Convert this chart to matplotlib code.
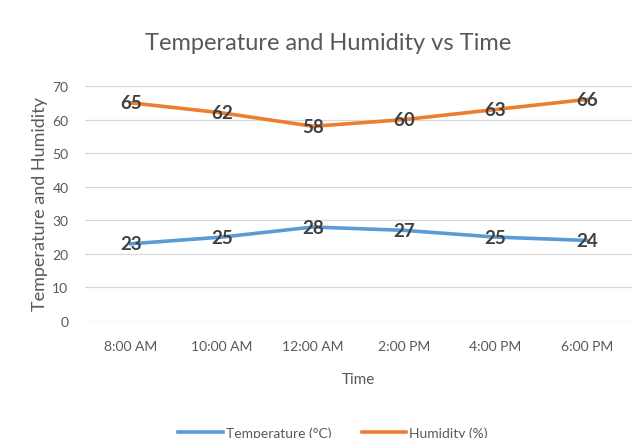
import matplotlib.pyplot as plt

times = ["8:00 AM", "10:00 AM", "12:00 AM", "2:00 PM", "4:00 PM", "6:00 PM"]
temperature = [23, 25, 28, 27, 25, 24]
humidity = [65, 62, 58, 60, 63, 66]

plt.rcParams["font.family"] = ["Lato", "DejaVu Sans"]
text_grey = "#595959"

fig = plt.figure(figsize=(6.4, 4.39), dpi=100)
ax = fig.add_axes([0.133, 0.2665, 0.855, 0.5353])

x = list(range(len(times)))
ax.plot(x, temperature, color="#5B9BD5", linewidth=2.6, label="Temperature (°C)", zorder=3)
ax.plot(x, humidity, color="#ED7D31", linewidth=2.6, label="Humidity (%)", zorder=3)

# data labels centered on the points
for series in (temperature, humidity):
    for i, v in enumerate(series):
        ax.text(i, v, str(v), ha="center", va="center", fontsize=13.5,
                fontweight="bold", color="#404040", zorder=4)

ax.set_xlim(-0.5, len(times) - 0.5)
ax.set_ylim(0, 70)
ax.set_yticks(range(0, 71, 10))
ax.set_xticks(x)
ax.set_xticklabels(times)
ax.tick_params(axis="both", length=0, colors=text_grey, labelsize=10)
ax.tick_params(axis="x", pad=14)
ax.tick_params(axis="y", pad=12)
ax.grid(axis="y", color="#D9D9D9", linewidth=0.9)
ax.set_axisbelow(True)
for s in ax.spines.values():
    s.set_visible(False)

ax.set_xlabel("Time", fontsize=11, color=text_grey, labelpad=14)
ax.set_ylabel("Temperature and Humidity", fontsize=13, color=text_grey, labelpad=3)
fig.suptitle("Temperature and Humidity vs Time", fontsize=17, color=text_grey,
             x=0.513, y=0.925)

fig.legend(loc="lower center", ncol=2, frameon=False, fontsize=10,
           bbox_to_anchor=(0.52, -0.03), handlelength=3.2, handletextpad=0.2,
           columnspacing=2.2, labelcolor=text_grey)

fig.savefig("out.png", dpi=100)
